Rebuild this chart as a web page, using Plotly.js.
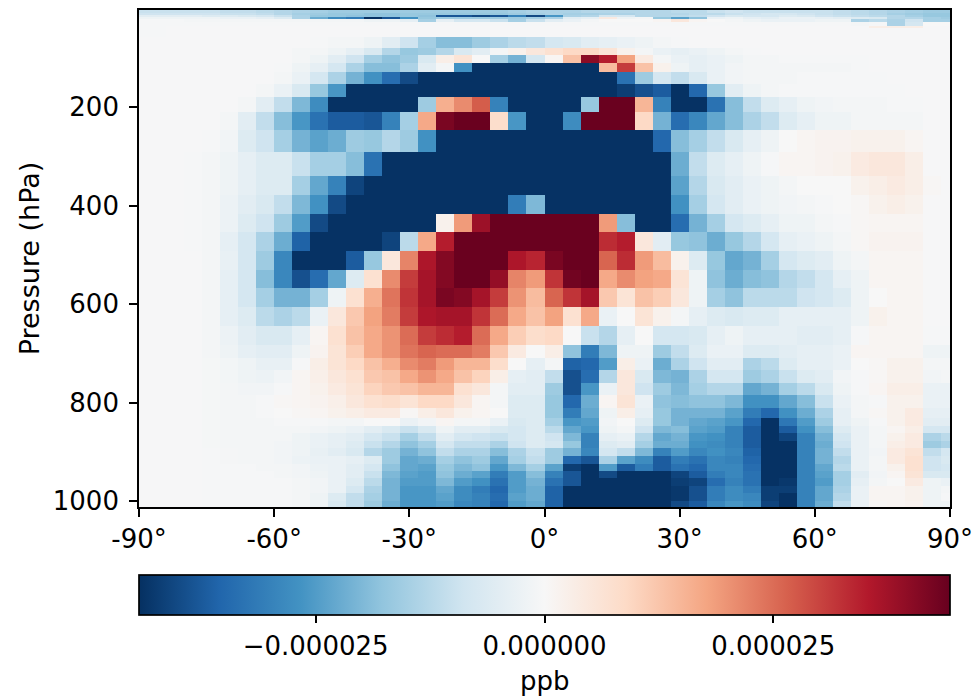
<!DOCTYPE html>
<html><head><meta charset="utf-8">
<script src="https://cdn.plot.ly/plotly-3.0.1.min.js"></script>
<style>html,body{margin:0;padding:0;background:#fff}#c{width:973px;height:700px}</style>
</head><body><div id="c"></div>
<script>
// Values are in units of 1e-6 ppb, row by row from the top of the atmosphere down.
const latEdges=[-90,-88,-84,-80,-76,-72,-68,-64,-60,-56,-52,-48,-44,-40,-36,-32,-28,-24,-20,-16,-12,-8,-4,0,4,8,12,16,20,24,28,32,36,40,44,48,52,56,60,64,68,72,76,80,84,88,90];
const pressureEdges=[3,9,14,18,21,27,36,40,57,80,94,110,129,153,180,210,247,291,340,379,417,454,492,531,568,606,644,683,709,734,760,785,811,831,847,862,878,893,909,924,939,954,970,984,1000,1012];
const xTickVals=[-90,-60,-30,0,30,60,90];
const xTickText=['-90°','-60°','-30°','0°','30°','60°','90°'];
const yTickVals=[200,400,600,800,1000];
const cbTickVals=[-25,0,25];
const cbTickText=['\u22120.000025','0.000000','0.000025'];
const colorLimit=44.3;
const r00=[-10,-10,-10,-10,-10,-11,-11,-12,-13,-14,-15,-16,-16,-16,-16,-16,-16,-16,-16,-16,-16,-15,-14,-14,-14,-13,-13,-13,-13,-13,-12,-12,-10,-9,-10,-10,-10,-10,-10,-11,-12,-13,-14,-15,-16,-16];
const r01=[-9,-9,-9,-9,-9,-10,-10,-11,-13,-15,-16,-17,-17,-18,-18,-17,-17,-17,-17,-17,-17,-16,-15,-14,-15,-15,-14,-14,-13,-13,-13,-12,-12,-10,-9,-8,-8,-9,-10,-11,-12,-13,-15,-16,-17,-17];
const r02=[-5,-5,-5,-5,-6,-6,-7,-8,-10,-14,-17,-17,-18,-18,-18,-17,-18,-38,-38,-40,-38,-30,-40,-26,-14,-13,-8,-8,-13,-13,-12,-11,-9,-7,-8,-8,-6,-7,-9,-10,-11,-12,-13,-15,-17,-17];
const r03=[-2,-2,-2,-2,-2,-3,-3,-4,-6,-14,-22,-28,-31,-44,-38,-27,-17,-16,-16,-16,-16,-16,-15,-14,-5,-4,4,-2,-1,-17,-24,-18,-3,-2,-4,-5,-3,-3,-4,-5,-6,-7,-13,-13,-15,-16];
const r04=[-0.5,-0.5,-0.5,-1,-1,-1,-1,-1,-1,-1,-1,-1,-1,-2,-2,-4,-15,-4,-8,-8,-10,-15,-10,-5,-3,-1,0,0,0,1,5,1,0,-1,-2,-3,-3,-3,-2,-2,-14,-12,-14,-9,-15,-15];
const r05=[-0.5,-0.5,-0.5,-0.5,-0.5,-0.5,-0.5,-0.5,-0.5,-0.5,-0.5,-0.5,-0.5,-0.5,-0.5,-0.5,-0.5,-0.5,-0.5,-0.5,-0.5,-0.5,-0.5,-0.5,-0.5,-0.5,-0.5,-0.5,-0.5,-0.5,-0.5,-0.5,-0.5,-0.5,-0.5,-0.5,-0.5,-0.5,-0.5,-0.5,-1,-0.5,-14,-8,0,0];
const r06=[-0.5,-0.5,-0.3,-0.3,-0.3,-0.3,-0.3,-0.3,-0.3,-0.3,-0.3,-0.3,-0.3,-0.3,-0.3,-0.3,-0.3,-0.3,-0.3,-0.3,-0.3,-0.3,-0.3,-0.3,-0.3,-0.3,-0.3,-0.3,-0.3,-0.3,-0.3,-0.3,-0.3,-0.3,-0.3,-0.3,-0.3,-0.3,-0.3,-0.3,-0.3,3,3,3,-0.3,-0.3];
const r07=[-0.5,-0.5,-0.3,-0.3,-0.3,-0.3,-0.3,-0.3,-0.3,-0.3,-0.3,-0.3,-0.3,-0.3,-0.3,-0.3,-0.3,-0.3,-0.3,-0.3,-0.3,-0.3,-0.3,-0.3,-0.3,-0.3,-0.3,-0.3,-0.3,-0.3,-0.3,-0.3,-0.3,-0.3,-0.3,-0.3,-0.3,-0.3,-0.3,-0.3,-0.3,-0.3,-0.3,-0.3,-0.3,-0.3];
const r08=[-0.3,-0.3,-0.3,-0.3,-0.3,-0.3,-0.3,-0.3,-0.3,-0.3,-0.5,-1,-1,-2,-5,-9,-15,-19,-19,-16,-14,-12,-11,-8,-7,-5,-4,-3,-2,-1,-0.5,-0.3,-0.3,-0.3,-0.3,-0.3,-0.3,-0.3,-0.3,-0.3,-0.3,-0.3,-0.3,-0.3,-0.3,-0.3];
const r09=[-0.3,-0.3,-0.3,-0.3,-0.3,-0.3,-0.3,-0.3,-0.3,-1,-1,-2,-4,-7,-13,-17,-16,-13,-7,-5,-1,2,5,7,9,9,6,2,-1,-3,-4,-3,-2,-1,-0.5,-0.3,-0.3,-0.3,-0.3,-0.3,-0.3,-0.3,-0.3,-0.3,-0.3,-0.3];
const r10=[-0.3,-0.3,-0.3,-0.3,-0.3,-0.3,-0.3,-0.3,-0.3,-1,-2,-5,-9,-15,-18,-16,-7,3,6,0,-15,-21,-8,1,13,40,35,18,4,-1,-3,-4,-3,-2,-1,-1,-0.5,-0.5,-0.5,-0.5,-0.5,-0.3,-0.3,-0.3,-0.3,-0.3];
const r11=[-0.3,-0.3,-0.3,-0.3,-0.3,-0.3,-0.3,-0.3,-0.5,-2,-4,-8,-14,-19,-19,-14,-5,-1,-27,-44,-44,-44,-44,-44,-44,-44,14,31,13,2,-2,-4,-3,-1.5,-1,-1,-1,-1,-1,-1,-0.5,-0.3,-0.3,-0.3,-0.3,-0.3];
const r12=[-0.3,-0.3,-0.3,-0.3,-0.3,-0.3,-0.3,-0.3,-1,-3,-8,-14,-21,-27,-34,-40,-44,-44,-44,-44,-44,-44,-44,-44,-44,-44,-44,-33,-16,-8,-11,-7,-3,-1.5,-1,-1,-1,-0.5,-0.5,-0.5,-0.5,-0.5,-0.3,-0.3,-0.3,-0.3];
const r13=[-0.3,-0.3,-0.3,-0.3,-0.3,-0.3,-0.3,-1,-3,-7,-17,-26,-44,-44,-44,-44,-44,-44,-44,-44,-44,-44,-44,-44,-44,-44,-44,-42,-39,-37,-44,-35,-17,-5,-2,-1,-0.5,-0.5,-0.5,-0.5,-0.5,-0.5,-0.5,-0.3,-0.3,-0.3];
const r14=[-0.3,-0.3,-0.3,-0.3,-0.3,-0.3,-1,-5,-11,-20,-28,-44,-44,-44,-44,-44,-16,16,21,27,-30,-44,-44,-44,-44,-17,44,44,15,-30,-44,-44,-33,-19,-11,-6,-4,-2,-1.5,-1,-1,-1,-0.5,-0.5,-0.3,-0.3];
const r15=[-0.3,-0.3,-0.3,-0.3,-0.3,-1,-5,-11,-19,-26,-33,-37,-37,-38,-30,-15,17,42,44,44,8,-26,-44,-44,-28,44,44,44,9,-21,-34,-29,-23,-19,-14,-11,-6,-4,-2,-2,-1,-1,-1,-1,-0.3,-0.3];
const r16=[-0.3,-0.3,-0.3,-0.3,-0.5,-1.5,-6,-9,-15,-21,-24,-22,-16,-17,-13,-16,-27,-44,-44,-44,-44,-44,-44,-44,-44,-44,-44,-44,-44,-35,-19,-15,-11,-7,-4,-2,0,1,1.5,1.5,2,2,2,1,-0.3,-0.3];
const r17=[-0.3,-0.3,-0.3,-0.5,-1,-2,-4,-6,-6,-10,-15,-15,-19,-33,-44,-44,-44,-44,-44,-44,-44,-44,-44,-44,-44,-44,-44,-44,-44,-44,-22,-11,-6,-4,-2,-0.5,1,1,1.5,2,4,5,5,3,-0.3,-0.3];
const r18=[-0.3,-0.3,-0.3,-0.5,-1,-2,-4,-6,-6,-15,-23,-30,-41,-44,-44,-44,-44,-44,-44,-44,-44,-44,-44,-44,-44,-44,-44,-44,-44,-44,-24,-13,-7,-5,-3,-2,-1,0,0,0,2,3,4,3,0.5,-0.3];
const r19=[-0.3,-0.3,-0.3,-0.5,-1,-2.5,-5,-7,-11,-20,-27,-40,-44,-44,-44,-44,-44,-44,-44,-44,-44,-31,-20,-44,-44,-44,-44,-44,-44,-44,-27,-15,-8,-5,-3,-2,-1.5,-1,-0.5,0,0.5,2,3,2,-0.3,-0.3];
const r20=[-0.3,-0.3,-0.3,-0.5,-1,-2.5,-6,-9,-16,-25,-40,-44,-44,-44,-44,-44,-44,2,19,38,44,44,44,44,44,44,19,-19,-44,-44,-34,-21,-15,-8,-6,-4,-2,-2,-1,-0.5,0.5,1,1,1,-0.3,-0.3];
const r21=[-0.3,-0.3,-0.3,-0.5,-1,-4,-8,-14,-22,-36,-44,-44,-44,-44,-41,-12,17,35,44,44,44,44,44,44,44,44,33,35,5,-5,-17,-18,-22,-17,-13,-8,-4,-3,-2,-1,0.5,1.5,1.5,1.5,-0.3,-0.3];
const r22=[-0.3,-0.3,-0.3,-0.3,-1,-3.5,-8,-16,-29,-44,-44,-44,-37,-17,5,22,36,41,44,44,44,36,34,42,44,44,26,33,19,14,2,-6,-17,-23,-21,-15,-8,-6,-5,-2,-1,1,1,1,-0.3,-0.3];
const r23=[-0.3,-0.3,-0.3,-0.3,-1,-4,-8,-19,-29,-39,-34,-23,-6,7,21,31,37,41,44,44,39,22,19,32,43,44,17,21,18,17,6,-2,-18,-22,-19,-18,-13,-11,-8,-4,-2,1,1,1,-0.3,-0.3];
const r24=[-0.3,-0.3,-0.3,-0.3,-1,-4,-8,-15,-21,-21,-15,-2,7,16,24,32,37,42,41,37,31,20,14,26,32,37,12,6,13,11,5,-2,-15,-18,-12,-12,-12,-9,-8,-6,-2,0,1,1,-0.3,-0.3];
const r25=[-0.3,-0.3,-0.3,-0.3,-1,-4,-6,-12,-14,-12,-3,5,12,18,23,31,36,37,37,32,25,17,13,18,7,17,-3,0,6,2,-1,-4,-6,-7,-6,-6,-4,-4,-4,-4,-2,2,1,1,-0.3,-0.3];
const r26=[-0.3,-0.3,-0.3,-0.3,-1,-2.5,-5,-7,-7,-4,1,7,13,17,20,25,31,33,35,25,17,11,8,9,0,-10,-13,-4,0,-8,-8,-7,-4,-2,-4,-4,-4,-5,-5,-4,-0.5,1,1,1,-0.5,-0.5];
const r27=[-0.3,-0.3,-0.3,-0.3,-1,-2,-4,-5,-5,-2,1.5,6,11,17,20,24,26,25,25,23,12,4,0,3,-18,-31,-20,-2,-2,-16,-11,-6,-3,-3,-6,-6,-5,-4,-4,-3,1,1,1,1,-2,-2];
const r28=[-0.3,-0.3,-0.3,-0.3,-0.7,-1.2,-2,-3.5,-3.5,-0.5,3,6,9,13,16,21,23,19,15,15,8,0,-4,-1,-36,-35,-25,3,-3,-22,-14,-9,-5,-5,-14,-12,-6,-4,-4,-3,0,0.5,2,2,-1,-1];
const r29=[-0.3,-0.3,-0.3,-0.3,-0.7,-1.2,-2,-2.5,-1.5,1,2.5,5,7,12,13,17,20,17,13,10,3,-4,-5,-11,-39,-34,-13,5,-7,-20,-21,-14,-8,-8,-16,-14,-10,-6,-5,-1.5,-0.5,0.5,2,2,-1.5,-1];
const r30=[-0.3,-0.3,-0.3,-0.3,-0.7,-1,-1.5,-1.5,-0.5,1,2,4,6,10,12,13,15,15,7,5,-1,-5,-5,-16,-39,-26,-3,5,-9,-16,-20,-15,-13,-13,-23,-21,-15,-12,-7,-2,-0.5,1,3,3,-3,-3];
const r31=[-0.3,-0.3,-0.3,-0.3,-0.7,-1,-1,-0.5,0.5,1,1.5,2.5,5,7,8,6,9,9,5,1,-1,-6,-6,-17,-35,-22,1,6,-3,-18,-19,-18,-18,-20,-27,-27,-23,-19,-10,-3,-1,-0.5,2,2,-3,-3];
const r32=[-0.3,-0.3,-0.3,-0.3,-0.7,-1,-1,-0.5,0,0.5,1,2,3,4,4,0.5,3,5,2,1,0,-6,-6,-17,-31,-23,-2,3,-4,-17,-21,-21,-21,-24,-31,-35,-27,-22,-14,-4,-1,0.5,2,4,-4,-4];
const r33=[-0.3,-0.3,-0.3,-0.3,-0.7,-1,-1,-1,-0.5,-0.5,-0.5,-1,-1,0,0,-3,-1.5,1,-1,-1,-3,-7,-6,-15,-26,-25,-1.5,0,-6,-17,-21,-23,-24,-26,-35,-44,-32,-25,-16,-4,-2,-0.5,2,4,-5,-5];
const r34=[-0.3,-0.3,-0.3,-0.3,-0.7,-1,-1,-1,-1,-1,-1.5,-2,-3,-5,-7,-10,-7,-2,-5,-5,-7,-8,-6,-12,-23,-26,-2,-1,-9,-20,-19,-24,-25,-30,-37,-44,-37,-27,-19,-6,-3,-1,1,3,-8,-8];
const r35=[-0.3,-0.3,-0.3,-0.3,-0.7,-1,-1,-1,-1,-2,-3,-4,-5,-8,-10,-15,-11,-5,-8,-9,-10,-8,-6,-9,-20,-30,-4,-3,-13,-23,-21,-26,-27,-30,-37,-44,-41,-30,-21,-8,-3,-1,2,4,-14,-12];
const r36=[-0.3,-0.3,-0.3,-0.3,-0.7,-1,-1,-1,-1.5,-2,-3,-4,-6,-10,-13,-18,-15,-8,-11,-11,-14,-9,-6,-8,-17,-30,-6,-5,-15,-22,-22,-27,-28,-30,-37,-44,-44,-30,-22,-9,-3,-1,3,4,-16,-14];
const r37=[-0.3,-0.3,-0.3,-0.3,-0.5,-0.8,-1,-1,-1.5,-2,-3.5,-5,-7,-13,-16,-21,-18,-11,-14,-14,-19,-14,-10,-16,-21,-29,-8,-11,-20,-30,-25,-29,-27,-29,-36,-44,-44,-30,-21,-11,-3,-1.5,4,6,-11,-8];
const r38=[-0.3,-0.3,-0.3,-0.3,-0.5,-0.8,-1,-1,-1.5,-2.5,-3,-3,-4,-6,-16,-23,-22,-15,-18,-16,-23,-15,-11,-16,-35,-38,-14,-24,-28,-37,-31,-33,-29,-30,-35,-44,-44,-30,-21,-13,-3,-1,4,7,-9,-7];
const r39=[-0.3,-0.3,-0.3,-0.3,-0.5,-0.5,-0.5,-1,-1,-1.5,-2.5,-3,-5,-8,-18,-23,-24,-17,-20,-18,-26,-20,-15,-24,-42,-44,-25,-37,-31,-37,-33,-35,-29,-29,-34,-44,-44,-30,-23,-12,-3,-1,2,7,-9,-8];
const r40=[-0.3,-0.3,-0.3,-0.3,-0.5,-0.5,-0.5,-0.5,-1,-1.5,-2,-3,-5,-10,-20,-24,-25,-18,-22,-24,-31,-25,-19,-30,-38,-44,-40,-44,-44,-44,-41,-37,-31,-29,-33,-44,-44,-30,-24,-15,-5,-1.5,1,6,-7,-7];
const r41=[-0.3,-0.3,-0.3,-0.3,-0.5,-0.5,-0.5,-0.5,-0.5,-1,-1.5,-3,-6,-12,-21,-25,-25,-20,-25,-27,-33,-25,-21,-33,-38,-44,-44,-44,-44,-44,-42,-41,-34,-30,-33,-44,-43,-30,-25,-15,-4,-1,0,4,-2,-3];
const r42=[-0.3,-0.3,-0.3,-0.3,-0.5,-0.5,-0.5,-0.5,-0.5,-1,-1.5,-3,-8,-14,-21,-26,-26,-23,-28,-31,-35,-25,-22,-36,-44,-44,-44,-44,-44,-44,-43,-39,-31,-28,-31,-42,-42,-30,-23,-14,-3,1,1,2,-2,-1];
const r43=[-0.3,-0.3,-0.3,-0.3,-0.5,-0.5,-0.5,-0.5,-0.5,-1,-2,-6,-11,-15,-21,-26,-26,-24,-28,-30,-34,-24,-22,-36,-44,-44,-44,-44,-44,-44,-43,-39,-31,-28,-29,-42,-44,-30,-23,-13,-3,1,1,2,-2,-0.5];
const r44=[-0.3,-0.3,-0.3,-0.3,-0.5,-0.5,-0.5,-0.5,-0.5,-1,-2,-7,-11,-16,-22,-26,-26,-25,-29,-30,-35,-25,-23,-36,-44,-44,-44,-44,-44,-44,-40,-37,-29,-26,-28,-41,-44,-30,-22,-11,-3,0.5,1,1.5,-2,-2];
const zRows=[r00,r01,r02,r03,r04,r05,r06,r07,r08,r09,r10,r11,r12,r13,r14,r15,r16,r17,r18,r19,r20,r21,r22,r23,r24,r25,r26,r27,r28,r29,r30,r31,r32,r33,r34,r35,r36,r37,r38,r39,r40,r41,r42,r43,r44];

const rdBuR=[[0,'#053061'],[0.1,'#2166ac'],[0.2,'#4393c3'],[0.3,'#92c5de'],[0.4,'#d1e5f0'],[0.5,'#f7f7f7'],[0.6,'#fddbc7'],[0.7,'#f4a582'],[0.8,'#d6604d'],[0.9,'#b2182b'],[1,'#67001f']];
const fontFamily='"DejaVu Sans", sans-serif';
const axisFont={family:fontFamily,size:26,color:'#000'};
const titleFont={family:fontFamily,size:27,color:'#000'};
Plotly.newPlot('c',[{
  type:'heatmap',x:latEdges,y:pressureEdges,z:zRows,
  zmin:-colorLimit,zmax:colorLimit,colorscale:rdBuR,zsmooth:false,
  colorbar:{orientation:'h',lenmode:'pixels',len:811,thicknessmode:'pixels',thickness:40,
    x:0,xanchor:'left',xref:'paper',y:-0.137,yanchor:'top',yref:'paper',
    outlinewidth:1.7,outlinecolor:'#000',borderwidth:0,xpad:0,ypad:0,
    tickmode:'array',tickvals:cbTickVals,ticktext:cbTickText,ticks:'outside',ticklen:8,tickwidth:1.5,tickcolor:'#000',
    tickfont:axisFont}
}],{
  width:973,height:700,paper_bgcolor:'#fff',plot_bgcolor:'#fff',
  margin:{l:139,r:23,t:10,b:193,pad:0,autoexpand:false},
  font:axisFont,
  annotations:[{text:'ppb',xref:'paper',yref:'paper',x:0.5,y:-0.35,xanchor:'center',yanchor:'middle',showarrow:false,font:axisFont}],
  xaxis:{range:[-90,90],tickmode:'array',tickvals:xTickVals,ticktext:xTickText,ticks:'outside',ticklen:8,tickwidth:1.5,tickcolor:'#000',
    showline:true,mirror:true,linecolor:'#000',linewidth:1.7,showgrid:false,zeroline:false,tickfont:axisFont,ticklabeloverflow:'allow'},
  yaxis:{range:[1012,3],tickmode:'array',tickvals:yTickVals,ticks:'outside',ticklen:8,tickwidth:1.5,tickcolor:'#000',ticklabelstandoff:5,
    showline:true,mirror:true,linecolor:'#000',linewidth:1.7,showgrid:false,zeroline:false,tickfont:axisFont,
    title:{text:'Pressure (hPa)',font:titleFont,standoff:5}}
},{displayModeBar:false,responsive:false});
</script></body></html>
